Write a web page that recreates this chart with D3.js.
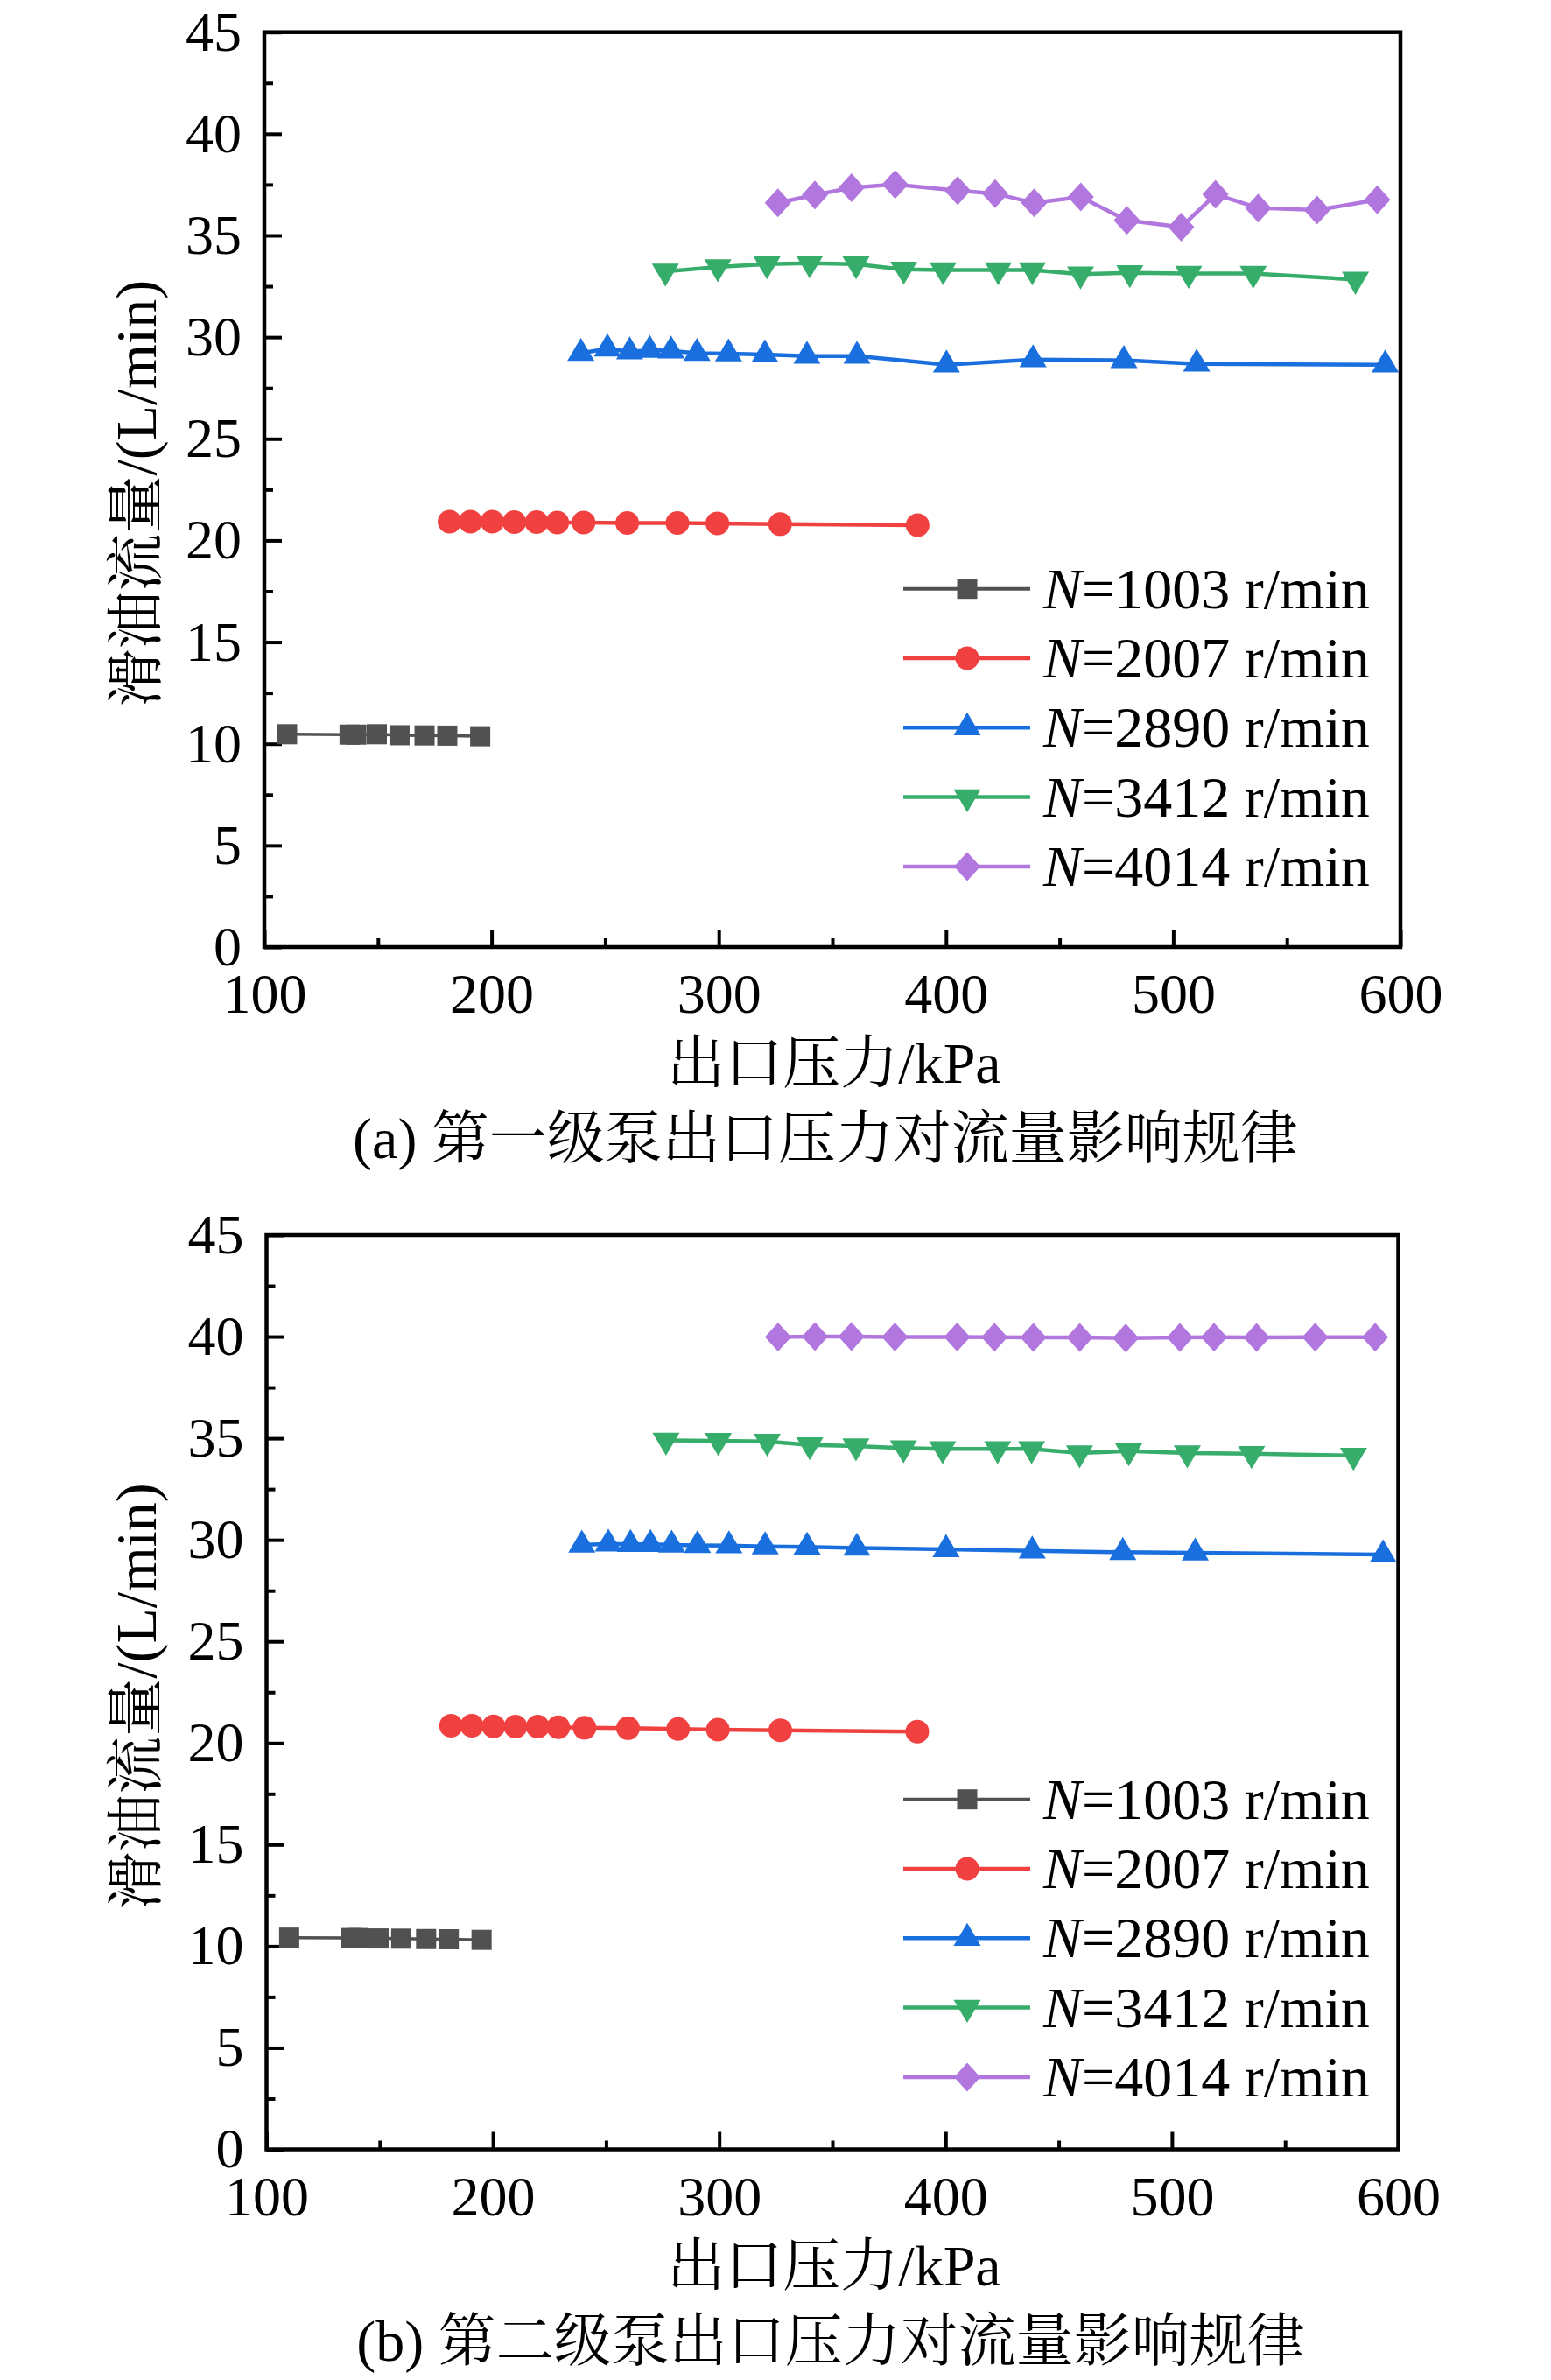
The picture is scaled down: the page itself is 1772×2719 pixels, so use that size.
<!DOCTYPE html>
<html>
<head>
<meta charset="utf-8">
<script src="https://cdn.jsdelivr.net/npm/d3@7"></script>
<style>
  body { margin: 0; background: #fff; }
  text { font-family: "Times New Roman", "Liberation Serif", "Noto Serif CJK SC", "Noto Sans CJK SC", serif; }
</style>
</head>
<body>
<div id="viz"></div>
<script>
const width = 1772;
const height = 2719;

// outlet pressure (kPa) per speed series
const pressure1003 = [110, 137.5, 140.5, 149.5, 159.5, 170.5, 180.5, 195];
const pressure2007 = [181.5, 190.7, 200.3, 210, 219.8, 228.9, 240.5, 259.7, 281.8, 299.4, 327, 387.5];
const pressure2890 = [239.3, 251, 260.8, 269.6, 279, 290.4, 304.3, 320.3, 338.8, 360.8, 400.2, 438.3, 478.3, 510.3, 593.3];
const pressure3412 = [276.5, 299.6, 321.2, 340, 360.4, 381.4, 398.7, 423, 438, 459.2, 480.9, 506.8, 535.2, 580.2];
const pressure4014 = [326, 342.3, 358.4, 377.6, 405.1, 421.6, 438.8, 459.3, 479.6, 503.5, 518.6, 537.4, 563.3, 589.8];

// panel (a): first stage pump flow (L/min)
const flowA1003 = [10.47, 10.45, 10.45, 10.47, 10.42, 10.41, 10.4, 10.37];
const flowA2007 = [20.92, 20.92, 20.92, 20.9, 20.9, 20.88, 20.88, 20.86, 20.86, 20.84, 20.8, 20.75];
const flowA2890 = [29.21, 29.43, 29.29, 29.36, 29.33, 29.21, 29.19, 29.14, 29.07, 29.07, 28.64, 28.9, 28.86, 28.68, 28.64];
const flowA3412 = [33.23, 33.45, 33.59, 33.63, 33.59, 33.33, 33.3, 33.3, 33.3, 33.09, 33.16, 33.13, 33.13, 32.83];
const flowA4014 = [36.6, 36.99, 37.35, 37.51, 37.21, 37.06, 36.6, 36.89, 35.74, 35.41, 37.02, 36.35, 36.25, 36.75];

// panel (b): second stage pump flow (L/min)
const flowB1003 = [10.42, 10.4, 10.4, 10.38, 10.37, 10.35, 10.34, 10.31];
const flowB2007 = [20.85, 20.85, 20.82, 20.81, 20.81, 20.78, 20.75, 20.73, 20.69, 20.66, 20.63, 20.56];
const flowB2890 = [29.75, 29.8, 29.78, 29.78, 29.75, 29.73, 29.72, 29.67, 29.65, 29.6, 29.53, 29.46, 29.39, 29.36, 29.27];
const flowB3412 = [34.9, 34.88, 34.84, 34.67, 34.62, 34.52, 34.48, 34.48, 34.48, 34.27, 34.37, 34.27, 34.24, 34.15];
const flowB4014 = [39.98, 40.0, 40.0, 39.98, 39.98, 39.97, 39.96, 39.96, 39.93, 39.96, 39.97, 39.96, 39.97, 39.97];

const speeds = ['1003', '2007', '2890', '3412', '4014'];
const colors = ['#515151', '#F14040', '#1A6FDF', '#37AD6B', '#B177DE'];
const markers = ['square', 'circle', 'triangleUp', 'triangleDown', 'diamond'];
const pressures = [pressure1003, pressure2007, pressure2890, pressure3412, pressure4014];

const xTicks = [100, 200, 300, 400, 500, 600];
const xMinor = [150, 250, 350, 450, 550];
const yTicks = [0, 5, 10, 15, 20, 25, 30, 35, 40, 45];
const yMinor = [2.5, 7.5, 12.5, 17.5, 22.5, 27.5, 32.5, 37.5, 42.5];

const xTitle = '出口压力/kPa';
const yTitle = '滑油流量/(L/min)';
const captions = ['(a) 第一级泵出口压力对流量影响规律', '(b) 第二级泵出口压力对流量影响规律'];

const svg = d3.select('#viz')
  .append('svg')
    .attr('width', width)
    .attr('height', height)
    .attr('viewBox', [0, 0, width, height]);

markerPath = function (type) {
  if (type === 'square') return 'M-11.5,-11.5H11.5V11.5H-11.5Z';
  if (type === 'circle') return 'M-13.5,0A13.5,13.5 0 1,0 13.5,0A13.5,13.5 0 1,0 -13.5,0Z';
  if (type === 'triangleUp') return 'M0,-17.5L15.5,8.8L-15.5,8.8Z';
  if (type === 'triangleDown') return 'M0,17.5L15.5,-8.8L-15.5,-8.8Z';
  return 'M0,-16.5L15,0L0,16.5L-15,0Z';
};

drawPanel = function (cfg) {
  const xScale = d3.scaleLinear().domain([100, 600]).range([cfg.left, cfg.right]);
  const yScale = d3.scaleLinear().domain([0, 45]).range([cfg.bottom, cfg.top]);
  const g = svg.append('g').attr('class', 'panel');

  // minor ticks
  g.append('g')
    .attr('transform', `translate(0, ${cfg.bottom})`)
    .call(d3.axisBottom(xScale).tickValues(xMinor).tickSize(-10).tickFormat(''))
    .call(a => a.select('.domain').remove());
  g.append('g')
    .attr('transform', `translate(${cfg.left}, 0)`)
    .call(d3.axisLeft(yScale).tickValues(yMinor).tickSize(-10).tickFormat(''))
    .call(a => a.select('.domain').remove());

  // major ticks + labels
  g.append('g')
    .attr('class', 'x-axis')
    .attr('transform', `translate(0, ${cfg.bottom})`)
    .call(d3.axisBottom(xScale).tickValues(xTicks).tickSize(-20).tickPadding(30))
    .call(a => a.select('.domain').remove());
  g.append('g')
    .attr('class', 'y-axis')
    .attr('transform', `translate(${cfg.left}, 0)`)
    .call(d3.axisLeft(yScale).tickValues(yTicks).tickSize(-20).tickPadding(26))
    .call(a => a.select('.domain').remove());

  g.selectAll('.tick line').attr('stroke', '#000').attr('stroke-width', 4);
  g.selectAll('.tick text')
    .attr('fill', '#000')
    .style('font-family', '"Times New Roman", "Liberation Serif", serif')
    .style('font-size', '64px');

  g.append('rect')
    .attr('x', cfg.left)
    .attr('y', cfg.top)
    .attr('width', cfg.right - cfg.left)
    .attr('height', cfg.bottom - cfg.top)
    .attr('fill', 'none')
    .attr('stroke', '#000')
    .attr('stroke-width', 4.5);

  const lineGenerator = d3.line()
    .x(d => xScale(d[0]))
    .y(d => yScale(d[1]));

  speeds.forEach((s, i) => {
    const pts = pressures[i].map((p, j) => [p, cfg.flows[i][j]]);
    g.append('path')
      .attr('d', lineGenerator(pts))
      .attr('fill', 'none')
      .attr('stroke', colors[i])
      .attr('stroke-width', i === 0 ? 3.5 : 4.5);
    g.append('g')
      .attr('fill', colors[i])
      .selectAll('path')
      .data(pts)
      .join('path')
      .attr('transform', d => `translate(${xScale(d[0])}, ${yScale(d[1])})`)
      .attr('d', markerPath(markers[i]));
  });

  // legend
  const legend = g.append('g').attr('class', 'legend');
  speeds.forEach((s, i) => {
    const y = cfg.legendY + i * 79.3;
    legend.append('line')
      .attr('x1', 1032).attr('x2', 1177)
      .attr('y1', y).attr('y2', y)
      .attr('stroke', colors[i])
      .attr('stroke-width', i === 0 ? 4 : 4.5);
    legend.append('path')
      .attr('transform', `translate(1105, ${y})`)
      .attr('d', markerPath(markers[i]))
      .attr('fill', colors[i]);
    const t = legend.append('text')
      .attr('x', 1192)
      .attr('y', y + 22)
      .style('font-size', '66px')
      .attr('fill', '#000');
    t.append('tspan').style('font-style', 'italic').text('N');
    t.append('tspan').text(`=${s} r/min`);
  });

  svg.append('text')
    .attr('transform', `translate(178, ${cfg.top + 527}) rotate(-90)`)
    .attr('text-anchor', 'middle')
    .style('font-size', '66px')
    .text(yTitle);

  svg.append('text')
    .attr('x', (cfg.left + cfg.right) / 2 + 2)
    .attr('y', cfg.bottom + 155)
    .attr('text-anchor', 'middle')
    .style('font-size', '66px')
    .text(xTitle);

  svg.append('text')
    .attr('x', cfg.captionX)
    .attr('y', cfg.bottom + 241)
    .attr('text-anchor', 'middle')
    .style('font-size', '66px')
    .text(cfg.caption);
};

drawPanel({
  left: 302, right: 1600, top: 36.7, bottom: 1082,
  flows: [flowA1003, flowA2007, flowA2890, flowA3412, flowA4014],
  legendY: 672.7,
  caption: captions[0],
  captionX: 943
});

drawPanel({
  left: 304.5, right: 1597.5, top: 1411, bottom: 2455.5,
  flows: [flowB1003, flowB2007, flowB2890, flowB3412, flowB4014],
  legendY: 2055.7,
  caption: captions[1],
  captionX: 949
});
</script>
</body>
</html>
